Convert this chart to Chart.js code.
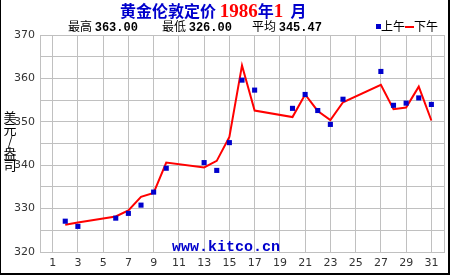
<!DOCTYPE html>
<html>
<head>
<meta charset="utf-8">
<script src="https://cdn.jsdelivr.net/npm/chart.js@4"></script>
<style>
  body { margin: 0; background: #fff; }
  #wrap { position: relative; width: 447px; height: 273px; border-left: 1px solid #000; border-right: 2px solid #000; border-bottom: 2px solid #000; overflow: hidden; }
  #chart { position: absolute; left: -1px; top: 0; }
  .txt { position: absolute; white-space: nowrap; }
  #title { left: 119px; top: 0px; font: bold 16px "Noto Sans CJK SC", sans-serif; color: #0000cc; line-height: 18px; }
  #title .red { color: #ff0000; font: bold 19px "Liberation Serif", serif; }
  .st { position: absolute; top: 18px; font: 12px "Noto Sans CJK SC", sans-serif; color: #000; line-height: 15px; white-space: nowrap; }
  .st b { font: bold 12px "Liberation Mono", monospace; }
  #legend { left: 375px; top: 18px; font: 12px "Noto Sans CJK SC", sans-serif; line-height: 15px; }
  .sw { display: inline-block; vertical-align: middle; margin-top: -2px; }
  #ytitle { left: 1px; top: 111px; width: 16px; font: 13px "Noto Sans CJK SC", sans-serif; line-height: 12px; text-align: center; }
  #mark { left: 171px; top: 239px; font: bold 15px "Liberation Mono", monospace; color: #0000cc; }
</style>
</head>
<body>
<div id="wrap">
  <canvas id="chart" width="450" height="275"></canvas>
  <div class="txt" id="title">黄金伦敦定价 <span class="red">1986</span>年<span class="red">1</span>&nbsp;&nbsp;月</div>
  <div class="st" style="left:67px">最高 <b>363.00</b></div>
  <div class="st" style="left:161px">最低 <b>326.00</b></div>
  <div class="st" style="left:251px">平均 <b>345.47</b></div>
  <div class="txt" id="legend"><span class="sw" style="width:5px;height:5px;background:#0000cc"></span>上午<span class="sw" style="width:9px;height:2px;background:#ff0000"></span>下午</div>
  <div class="txt" id="ytitle">美<br>元<br>/<br>盎<br>司</div>
  <div class="txt" id="mark">www.kitco.cn</div>
</div>
<script>
// trading days of January 1986
const days = [2, 3, 6, 7, 8, 9, 10, 13, 14, 15, 16, 17, 20, 21, 22, 23, 24, 27, 28, 29, 30, 31];
// morning (上午) and afternoon (下午) fixes, USD/oz
const amPrices = [327.1, 325.9, 327.8, 328.9, 330.8, 333.8, 339.3, 340.6, 338.8, 345.2, 359.6, 357.3,
  353.1, 356.3, 352.6, 349.4, 355.2, 361.6, 353.8, 354.3, 355.5, 354.0];
const pmPrices = [326.3, 326.8, 328.2, 329.6, 332.7, 333.6, 340.6, 339.5, 341.0, 346.5, 363.0, 352.6,
  351.1, 356.3, 352.5, 350.4, 354.5, 358.5, 352.9, 353.3, 358.1, 350.3];
const xTicks = [1, 3, 5, 7, 9, 11, 13, 15, 17, 19, 21, 23, 25, 27, 29, 31];

const ctx = document.getElementById('chart').getContext('2d');

new Chart(ctx, {
  type: 'line',
  data: {
    datasets: [{
      label: '上午',
      data: days.map((d, i) => ({ x: d, y: amPrices[i] })),
      showLine: false,
      pointStyle: 'rect',
      pointRadius: 3.6,
      pointBackgroundColor: '#0000cc',
      pointBorderWidth: 0,
      order: 0
    }, {
      label: '下午',
      data: days.map((d, i) => ({ x: d, y: pmPrices[i] })),
      borderColor: '#ff0000',
      borderWidth: 2,
      pointRadius: 0,
      tension: 0,
      order: 1
    }]
  },
  options: {
    responsive: false,
    animation: false,
    layout: { padding: { top: 35, right: 6, left: 0, bottom: 0 } },
    plugins: { legend: { display: false }, tooltip: { enabled: false } },
    scales: {
      x: {
        type: 'linear',
        min: 0,
        max: 32,
        afterBuildTicks: axis => {
          axis.ticks = [0, ...xTicks, 32].map(v => ({ value: v }));
        },
        afterFit: axis => { axis.height = 23; },
        grid: { color: '#c0c0c0', drawTicks: false },
        border: { color: '#c0c0c0' },
        ticks: {
          padding: 5,
          autoSkip: false,
          maxRotation: 0,
          color: '#333',
          font: { family: 'DejaVu Sans', size: 11 },
          callback: v => (xTicks.includes(v) ? String(v) : '')
        }
      },
      y: {
        min: 320,
        max: 370,
        afterFit: axis => { axis.width = 40; },
        grid: { color: '#c0c0c0', drawTicks: false },
        border: { color: '#c0c0c0' },
        ticks: {
          stepSize: 5,
          padding: 5,
          color: '#333',
          font: { family: 'DejaVu Sans', size: 11 },
          callback: v => (v % 10 === 0 ? String(v) : '')
        }
      }
    }
  }
});
</script>
</body>
</html>
